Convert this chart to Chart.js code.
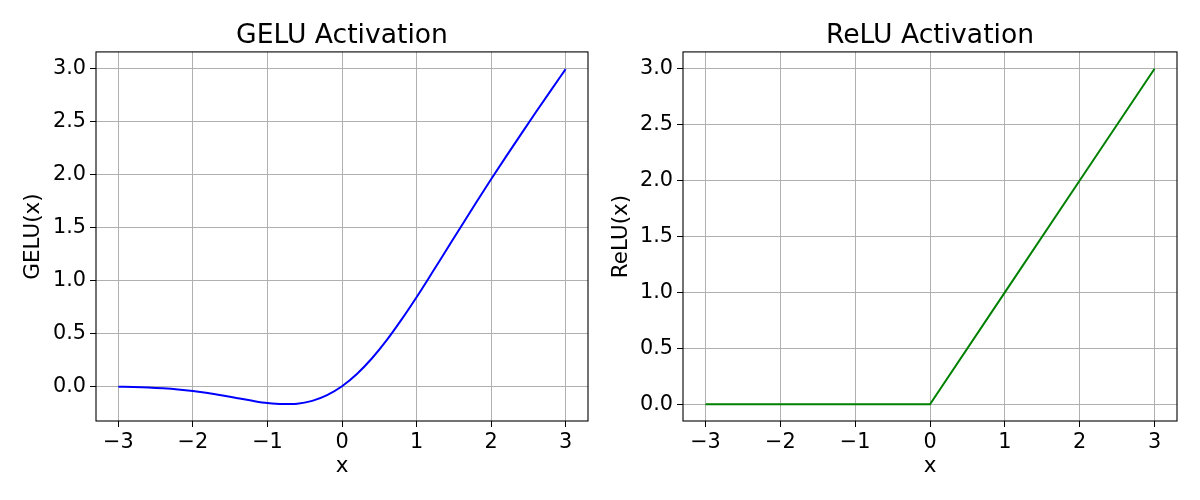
<!DOCTYPE html>
<html>
<head>
<meta charset="utf-8">
<script src="https://cdn.jsdelivr.net/npm/chart.js@4"></script>
<style>
  body { margin: 0; background: #fff; }
  .panel { position: absolute; top: 0; width: 600px; height: 500px; }
</style>
</head>
<body>
<div class="panel" style="left:0"><canvas id="geluChart" width="600" height="500"></canvas></div>
<div class="panel" style="left:600px"><canvas id="reluChart" width="600" height="500"></canvas></div>
<script>
// x samples and values
const geluX = [-3, -2.8, -2.6, -2.4, -2.2, -2, -1.8, -1.6, -1.4, -1.2, -1, -0.8, -0.6, -0.4, -0.2,
  0, 0.2, 0.4, 0.6, 0.8, 1, 1.2, 1.4, 1.6, 1.8, 2, 2.2, 2.4, 2.6, 2.8, 3];
const geluY = [-0.004, -0.007, -0.012, -0.020, -0.031, -0.046, -0.065, -0.088, -0.113, -0.138, -0.159, -0.169, -0.165, -0.138, -0.084,
  0, 0.116, 0.262, 0.435, 0.631, 0.841, 1.062, 1.287, 1.512, 1.735, 1.955, 2.169, 2.380, 2.588, 2.793, 2.996];

const reluX = [-3, -2, -1, 0, 1, 2, 3];
const reluY = [0, 0, 0, 0, 1, 2, 3];

const xTicks = [-3, -2, -1, 0, 1, 2, 3];
const yTicks = [0, 0.5, 1, 1.5, 2, 2.5, 3];

Chart.defaults.font.family = "'DejaVu Sans', sans-serif";
Chart.defaults.color = '#000';

// matplotlib-style closed frame around the plot area
const framePlugin = {
  id: 'frame',
  afterDraw(chart) {
    const { ctx, chartArea: a } = chart;
    ctx.save();
    ctx.strokeStyle = '#000';
    ctx.lineWidth = 1.1;
    ctx.strokeRect(a.left, a.top, a.right - a.left, a.bottom - a.top);
    ctx.restore();
  }
};

// center the title over the plot area instead of the whole canvas
const titleOverAxes = {
  id: 'titleOverAxes',
  afterLayout(chart) {
    if (chart.titleBlock) {
      chart.titleBlock.left = chart.chartArea.left;
      chart.titleBlock.right = chart.chartArea.right;
    }
  }
};

function makeChart(id, title, yLabel, xs, ys, color, smooth, yMin, yMax, box) {
  const ctx = document.getElementById(id).getContext('2d');
  const ds = {
    data: xs.map((x, i) => ({ x: x, y: ys[i] })),
    borderColor: color,
    borderWidth: 2,
    pointRadius: 0,
    fill: false,
    tension: 0
  };
  if (smooth) ds.cubicInterpolationMode = 'monotone';

  return new Chart(ctx, {
    type: 'line',
    data: { datasets: [ds] },
    options: {
      responsive: false,
      animation: false,
      devicePixelRatio: 1,
      layout: { padding: { left: 0, right: box.right, top: 0, bottom: 0 } },
      plugins: {
        legend: { display: false },
        tooltip: { enabled: false },
        title: {
          display: true,
          text: title,
          color: '#000',
          font: { size: 26.6, weight: 'normal' },
          padding: { top: 20, bottom: 0 }
        }
      },
      scales: {
        x: {
          type: 'linear',
          min: -3.3,
          max: 3.3,
          afterBuildTicks: s => { s.ticks = xTicks.map(v => ({ value: v })); },
          afterFit: s => { s.height = 79; },
          grid: { color: '#b0b0b0', lineWidth: 1, tickColor: '#000', tickLength: 6 },
          border: { display: false },
          ticks: {
            font: { size: 20.8 },
            padding: 3,
            maxRotation: 0,
            callback: v => String(v).replace('-', '\u2212')
          },
          title: { display: true, text: 'x', font: { size: 21.5 }, padding: { top: 0, bottom: 20.5 } }
        },
        y: {
          type: 'linear',
          min: yMin,
          max: yMax,
          afterBuildTicks: s => { s.ticks = yTicks.map(v => ({ value: v })); },
          afterFit: s => { s.width = box.left; },
          grid: { color: '#b0b0b0', lineWidth: 1, tickColor: '#000', tickLength: 6 },
          border: { display: false },
          ticks: { font: { size: 20.8 }, padding: 4, callback: v => v.toFixed(1) },
          title: { display: true, text: yLabel, font: { size: 21.5 }, padding: { top: box.labelPad, bottom: 0 } }
        }
      }
    },
    plugins: [framePlugin, titleOverAxes]
  });
}

makeChart('geluChart', 'GELU Activation', 'GELU(x)', geluX, geluY, '#0000ff', true, -0.3285, 3.1585,
  { left: 96, right: 12, labelPad: 20.1 });
makeChart('reluChart', 'ReLU Activation', 'ReLU(x)', reluX, reluY, '#008000', false, -0.15, 3.15,
  { left: 83, right: 23, labelPad: 8.8 });
</script>
</body>
</html>
